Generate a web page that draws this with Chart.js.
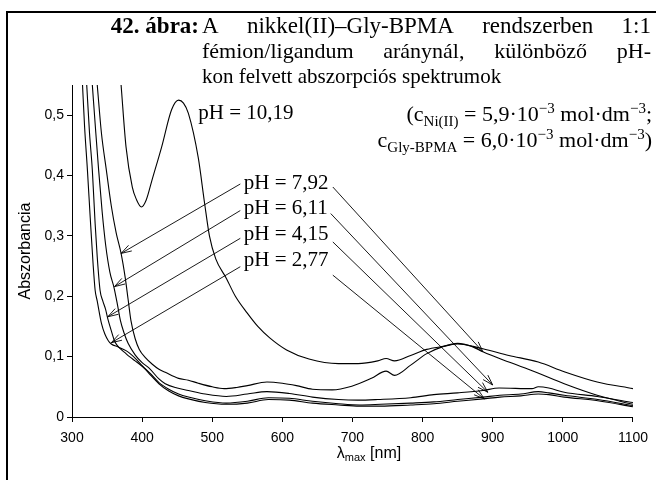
<!DOCTYPE html>
<html>
<head>
<meta charset="utf-8">
<script src="https://cdn.jsdelivr.net/npm/chart.js@4/dist/chart.umd.min.js"></script>
<style>
  html, body { margin: 0; padding: 0; background: #fff; }
  canvas { display: block; }
</style>
</head>
<body>
<canvas id="chartCanvas" width="656" height="480" style="width:656px;height:480px"></canvas>
<script>
// spectra: wavelength (nm) and absorbance per pH
const wl277 = [315, 318, 322, 326, 330, 333, 336, 342, 347, 352, 356, 366, 377, 385, 393, 400, 410, 424, 438, 452, 466, 490, 520, 550, 580, 610, 643, 680, 710, 740, 783, 816, 850, 886, 910, 940, 965, 980, 1002, 1050, 1100];
const abs277 = [0.55, 0.48, 0.409, 0.33, 0.255, 0.21, 0.192, 0.155, 0.137, 0.126, 0.121, 0.116, 0.11, 0.103, 0.094, 0.085, 0.072, 0.055, 0.043, 0.035, 0.03, 0.024, 0.021, 0.023, 0.029, 0.028, 0.023, 0.02, 0.018, 0.018, 0.02, 0.022, 0.026, 0.03, 0.033, 0.035, 0.038, 0.037, 0.033, 0.027, 0.017];

const wl415 = [321, 325, 329, 333, 336, 340, 344, 348, 351, 356, 361, 368, 375, 382, 390, 400, 410, 424, 438, 452, 466, 490, 520, 550, 580, 610, 643, 680, 710, 740, 783, 816, 850, 886, 910, 940, 965, 980, 1002, 1050, 1100];
const abs415 = [0.55, 0.47, 0.409, 0.32, 0.265, 0.21, 0.192, 0.178, 0.163, 0.143, 0.125, 0.114, 0.107, 0.1, 0.093, 0.084, 0.074, 0.057, 0.046, 0.038, 0.033, 0.027, 0.023, 0.026, 0.032, 0.031, 0.026, 0.022, 0.02, 0.021, 0.023, 0.025, 0.029, 0.033, 0.036, 0.038, 0.042, 0.04, 0.036, 0.029, 0.019];

const wl611 = [329, 334, 338, 343, 348, 354, 360, 365, 369, 374, 380, 390, 400, 410, 424, 433, 450, 466, 490, 520, 550, 578, 610, 643, 680, 708, 736, 783, 816, 850, 886, 909, 956, 965, 980, 1002, 1049, 1100];
const abs611 = [0.55, 0.47, 0.409, 0.34, 0.285, 0.24, 0.214, 0.185, 0.16, 0.14, 0.122, 0.103, 0.09, 0.081, 0.063, 0.055, 0.048, 0.044, 0.038, 0.034, 0.038, 0.042, 0.039, 0.033, 0.029, 0.028, 0.029, 0.032, 0.037, 0.04, 0.044, 0.048, 0.047, 0.05, 0.048, 0.041, 0.034, 0.024];

const wl792 = [336, 342, 349, 356, 363, 370, 376, 380, 384, 390, 396, 405, 415, 424, 433, 452, 466, 480, 500, 517, 535, 550, 578, 600, 620, 643, 671, 699, 727, 748, 760, 783, 806, 830, 850, 870, 886, 923, 960, 1002, 1049, 1100];
const abs792 = [0.55, 0.47, 0.409, 0.35, 0.305, 0.271, 0.23, 0.195, 0.16, 0.13, 0.112, 0.098, 0.087, 0.079, 0.074, 0.064, 0.061, 0.056, 0.05, 0.047, 0.049, 0.052, 0.058, 0.056, 0.052, 0.046, 0.045, 0.051, 0.064, 0.076, 0.069, 0.086, 0.105, 0.117, 0.122, 0.117, 0.108, 0.091, 0.075, 0.055, 0.036, 0.021];

const wl1019 = [370, 377, 386, 392, 399, 406, 414, 428, 442, 452, 459, 466, 480, 489, 496, 505, 520, 533, 550, 565, 582, 606, 638, 680, 708, 736, 748, 760, 783, 806, 830, 850, 886, 923, 965, 1002, 1049, 1100];
const abs1019 = [0.55, 0.448, 0.381, 0.36, 0.348, 0.36, 0.392, 0.448, 0.509, 0.525, 0.52, 0.503, 0.43, 0.355, 0.3, 0.262, 0.23, 0.2, 0.172, 0.15, 0.131, 0.111, 0.096, 0.0885, 0.0885, 0.093, 0.097, 0.093, 0.102, 0.112, 0.117, 0.121, 0.113, 0.102, 0.091, 0.075, 0.058, 0.047];

// tick values
const xTicks = [300, 400, 500, 600, 700, 800, 900, 1000, 1100];
const yTicks = [0, 0.1, 0.2, 0.3, 0.4, 0.5];

// pH labels with their arrows (data coordinates)
const phLabels = ["pH = 7,92", "pH = 6,11", "pH = 4,15", "pH = 2,77"];
const labelPos = [[545, 0.387], [545, 0.345], [545, 0.303], [545, 0.260]];
const leftFrom = [[540, 0.386], [540, 0.342], [540, 0.296], [540, 0.249]];
const leftTip = [[370, 0.271], [360.6, 0.216], [351, 0.166], [356, 0.123]];
const rightFrom = [[672, 0.381], [669, 0.337], [672, 0.290], [672, 0.235]];
const rightTip = [[886, 0.108], [900, 0.053], [893, 0.041], [888, 0.030]];
const label1019 = "pH = 10,19";
const label1019Pos = [480, 0.503];

const SERIF = '"Liberation Serif", "Times New Roman", serif';
const SANS = '"Liberation Sans", Arial, sans-serif';

const toPoints = (xs, ys) => xs.map((x, i) => ({ x: x, y: ys[i] }));

const lineSet = (label, xs, ys) => ({
  label: label,
  data: toPoints(xs, ys),
  borderColor: "#000",
  borderWidth: 1.1,
  pointRadius: 0,
  fill: false,
  cubicInterpolationMode: "monotone",
});

// text in runs: [text, size, yShift]
const drawRuns = (ctx, runs, x, y, align) => {
  let w = 0;
  runs.forEach((r) => {
    ctx.font = r[1] + "px " + SERIF;
    w += ctx.measureText(r[0]).width;
  });
  let cx = align === "right" ? x - w : x;
  ctx.textAlign = "left";
  ctx.textBaseline = "alphabetic";
  runs.forEach((r) => {
    ctx.font = r[1] + "px " + SERIF;
    ctx.fillText(r[0], cx, y + r[2]);
    cx += ctx.measureText(r[0]).width;
  });
};

const drawJustified = (ctx, text, x0, x1, y) => {
  const words = text.split(" ");
  const widths = words.map((w) => ctx.measureText(w).width);
  const total = widths.reduce((a, b) => a + b, 0);
  const gap = (x1 - x0 - total) / (words.length - 1);
  let cx = x0;
  words.forEach((w, i) => {
    ctx.fillText(w, cx, y);
    cx += widths[i] + gap;
  });
};

const arrow = (ctx, x0, y0, x1, y1) => {
  ctx.beginPath();
  ctx.moveTo(x0, y0);
  ctx.lineTo(x1, y1);
  const a = Math.atan2(y1 - y0, x1 - x0);
  const len = 11, spread = 0.3;
  ctx.moveTo(x1 - len * Math.cos(a - spread), y1 - len * Math.sin(a - spread));
  ctx.lineTo(x1, y1);
  ctx.lineTo(x1 - len * Math.cos(a + spread), y1 - len * Math.sin(a + spread));
  ctx.stroke();
};

const decorPlugin = {
  id: "decor",
  afterDraw(chart) {
    const ctx = chart.ctx;
    const xs = chart.scales.x, ys = chart.scales.y;
    ctx.save();
    ctx.fillStyle = "#000";
    ctx.strokeStyle = "#000";

    // frame
    ctx.lineWidth = 2;
    ctx.beginPath();
    ctx.moveTo(7, 480);
    ctx.lineTo(7, 12);
    ctx.lineTo(656, 12);
    ctx.stroke();

    // caption
    ctx.textBaseline = "alphabetic";
    ctx.textAlign = "right";
    ctx.font = "bold 23px " + SERIF;
    ctx.fillText("42. ábra:", 199, 33);
    ctx.textAlign = "left";
    ctx.font = "23px " + SERIF;
    drawJustified(ctx, "A nikkel(II)–Gly-BPMA rendszerben 1:1", 202, 651, 33);
    ctx.font = "22px " + SERIF;
    drawJustified(ctx, "fémion/ligandum aránynál, különböző pH-", 202, 651, 58);
    ctx.font = "21px " + SERIF;
    ctx.fillText("kon felvett abszorpciós spektrumok", 202, 83);

    drawRuns(ctx, [["(c", 22, 0], ["Ni(II)", 15, 5], [" = 5,9·10", 22, 0], ["−3", 15, -8],
      [" mol·dm", 22, 0], ["−3", 15, -8], [";", 22, 0]], 652, 121, "right");
    drawRuns(ctx, [["c", 22, 0], ["Gly-BPMA", 15, 5], [" = 6,0·10", 22, 0], ["−3", 15, -8],
      [" mol·dm", 22, 0], ["−3", 15, -8], [")", 22, 0]], 652, 147, "right");

    // curve labels
    ctx.font = "21px " + SERIF;
    ctx.textAlign = "left";
    ctx.textBaseline = "middle";
    ctx.fillText(label1019, xs.getPixelForValue(label1019Pos[0]), ys.getPixelForValue(label1019Pos[1]));
    phLabels.forEach((t, i) => {
      ctx.fillText(t, xs.getPixelForValue(labelPos[i][0]), ys.getPixelForValue(labelPos[i][1]));
    });

    // arrows
    ctx.lineWidth = 0.9;
    phLabels.forEach((t, i) => {
      arrow(ctx, xs.getPixelForValue(leftFrom[i][0]), ys.getPixelForValue(leftFrom[i][1]),
        xs.getPixelForValue(leftTip[i][0]), ys.getPixelForValue(leftTip[i][1]));
      arrow(ctx, xs.getPixelForValue(rightFrom[i][0]), ys.getPixelForValue(rightFrom[i][1]),
        xs.getPixelForValue(rightTip[i][0]), ys.getPixelForValue(rightTip[i][1]));
    });

    // axis titles
    ctx.save();
    ctx.translate(26, (ys.top + ys.bottom) / 2);
    ctx.rotate(-Math.PI / 2);
    ctx.font = "16px " + SANS;
    ctx.textAlign = "center";
    ctx.textBaseline = "middle";
    ctx.fillText("Abszorbancia", 0, 0);
    ctx.restore();

    ctx.textBaseline = "alphabetic";
    const lx = 369, ly = 458;
    ctx.font = "16px " + SANS;
    const w1 = ctx.measureText("λ").width;
    ctx.font = "11px " + SANS;
    const w2 = ctx.measureText("max").width;
    ctx.font = "16px " + SANS;
    const w3 = ctx.measureText(" [nm]").width;
    let cx = lx - (w1 + w2 + w3) / 2;
    ctx.textAlign = "left";
    ctx.fillText("λ", cx, ly);
    cx += w1;
    ctx.font = "11px " + SANS;
    ctx.fillText("max", cx, ly + 3);
    cx += w2;
    ctx.font = "16px " + SANS;
    ctx.fillText(" [nm]", cx, ly);
    ctx.restore();
  },
};

Chart.defaults.font.family = SANS;
Chart.defaults.color = "#000";

const ctx = document.getElementById("chartCanvas").getContext("2d");
new Chart(ctx, {
  type: "line",
  data: {
    datasets: [
      lineSet("pH = 2,77", wl277, abs277),
      lineSet("pH = 4,15", wl415, abs415),
      lineSet("pH = 6,11", wl611, abs611),
      lineSet("pH = 7,92", wl792, abs792),
      lineSet("pH = 10,19", wl1019, abs1019),
    ],
  },
  options: {
    responsive: false,
    animation: false,
    devicePixelRatio: 1,
    layout: { padding: { left: 0, top: 85, right: 13, bottom: 0 } },
    plugins: {
      legend: { display: false },
      tooltip: { enabled: false },
    },
    scales: {
      x: {
        type: "linear",
        min: 300,
        max: 1100,
        afterBuildTicks: (s) => { s.ticks = xTicks.map((v) => ({ value: v })); },
        afterFit: (s) => { s.height = 63; },
        ticks: { font: { size: 14 }, padding: 8, maxRotation: 0, callback: (v) => String(v) },
        grid: { display: true, drawOnChartArea: false, drawTicks: true, tickLength: 5, color: "#000" },
        border: { display: true, color: "#000", width: 1 },
      },
      y: {
        min: 0,
        max: 0.55,
        afterBuildTicks: (s) => { s.ticks = yTicks.map((v) => ({ value: v })); },
        afterFit: (s) => { s.width = 72; },
        ticks: {
          font: { size: 14 },
          padding: 3,
          callback: (v) => (v === 0 ? "0" : v.toFixed(1).replace(".", ",")),
        },
        grid: { display: true, drawOnChartArea: false, drawTicks: true, tickLength: 5, color: "#000" },
        border: { display: true, color: "#000", width: 1 },
      },
    },
  },
  plugins: [decorPlugin],
});
</script>
</body>
</html>
